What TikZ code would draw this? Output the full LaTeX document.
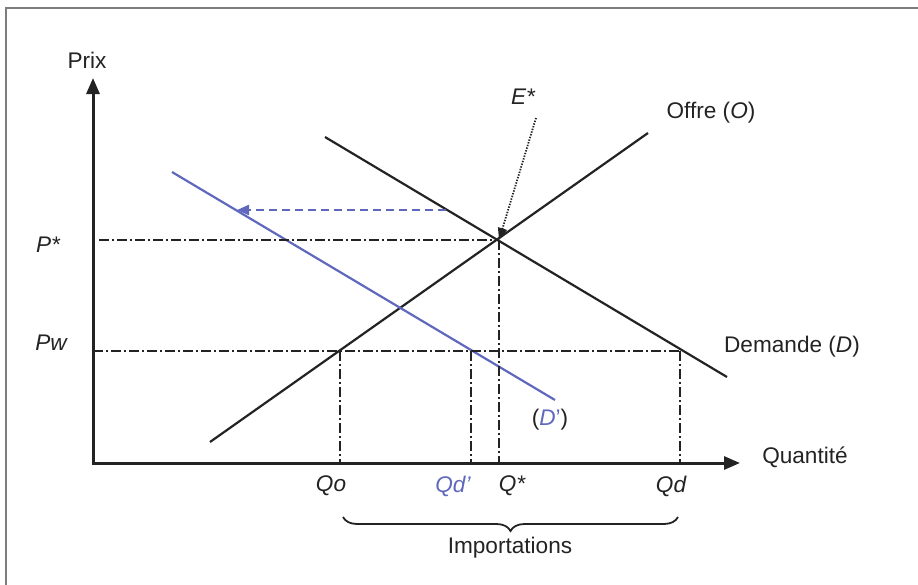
\documentclass[tikz,border=0pt]{standalone}
\usepackage{fontspec}
\setmainfont{Liberation Sans}
\usepackage{xcolor}
\usetikzlibrary{arrows.meta,decorations.pathreplacing}

\definecolor{shiftblue}{RGB}{96,104,190}
\definecolor{framegray}{RGB}{125,125,125}
\definecolor{inkgray}{RGB}{35,35,35}

\begin{document}
\begin{tikzpicture}[
  x=0.5pt, y=-0.5pt,
  font=\fontsize{11.3}{13}\selectfont,
  color=inkgray,
  axis/.style={line width=1.5pt, -{Triangle[length=8pt,width=6.5pt]}},
  curve/.style={line width=1.1pt},
  guide/.style={line width=0.85pt, dash pattern=on 5pt off 1.5pt on 1pt off 1.5pt},
  shifted/.style={curve, shiftblue},
  move/.style={shiftblue, line width=1.1pt, dash pattern=on 4pt off 2.5pt, -{Triangle[length=6pt,width=5pt]}},
  pointer/.style={line width=0.9pt, dash pattern=on 0.7pt off 0.7pt, -{Triangle[length=6pt,width=4.5pt]}},
  lbl/.style={inner sep=1pt},
  qty/.style={lbl, font=\fontsize{11.3}{13}\selectfont\itshape}
]
\useasboundingbox (0,0) rectangle (918,585);
\draw[framegray, line width=1pt] (918,7.5) -| (5.5,585);

% axes
\coordinate (O) at (93,463);
\coordinate (ytop) at (93,78);
\coordinate (xend) at (740,463);
\draw[axis] (O |- 0,465) -- (ytop);
\draw[axis] (92,463) -- (xend);
\node[lbl] (prix) at (87,60) {Prix};
\node[lbl] (quant) at (805,457) {Quantit\'e};

% curves
\coordinate (s1) at (210,442);
\coordinate (s2) at (648,133);
\coordinate (d1) at (325,137);
\coordinate (d2) at (727,377);
\coordinate (b1) at (172,172);
\coordinate (b2) at (555,400);
\coordinate (E) at (499,240);
\draw[curve] (s1) -- (s2);
\draw[curve] (d1) -- (d2);
\draw[shifted] (b1) -- (b2);
\node[lbl] (offre) at (711,113) {Offre (\textit{O})};
\node[lbl] (demande) at (792,347) {Demande (\textit{D})};
\node[lbl] (dprime) at (550,420) {(\textcolor{shiftblue}{\textit{D}'})};

% shift of demand
\coordinate (m1) at (446,210);
\coordinate (m2) at (237,210);
\draw[move] (m1) -- (m2);

% equilibrium
\node[qty] (estar) at (523,97) {E*};
\coordinate (e0) at (536,118);
\draw[pointer] (e0) -- (E);

% prices
\coordinate (pw) at (93,351);
\coordinate (qo) at (340,351);
\coordinate (qdp) at (471,351);
\coordinate (qd) at (680,351);
\draw[guide] (99,240) -- (E);
\draw[guide] (pw) -- (qd);
\node[qty] (pstar) at (48,245) {P*};
\node[qty] (pwl) at (51,343) {Pw};

% quantities
\draw[guide] (qo) -- (qo |- O);
\draw[guide] (qdp) -- (qdp |- O);
\draw[guide] (E) -- (E |- O);
\draw[guide] (qd) -- (qd |- O);
\node[qty] (qol) at (331,486) {Qo};
\node[qty, shiftblue] (qdpl) at (453,486) {Qd'};
\node[qty] (qsl) at (512,486) {Q*};
\node[qty] (qdl) at (671,486) {Qd};

% imports
\coordinate (br1) at (678,517);
\coordinate (br2) at (343,517);
\draw[line width=0.9pt, decorate, decoration={brace, amplitude=7pt}] (br1) -- (br2);
\node[lbl] (imports) at (510,548) {Importations};
\end{tikzpicture}
\end{document}
